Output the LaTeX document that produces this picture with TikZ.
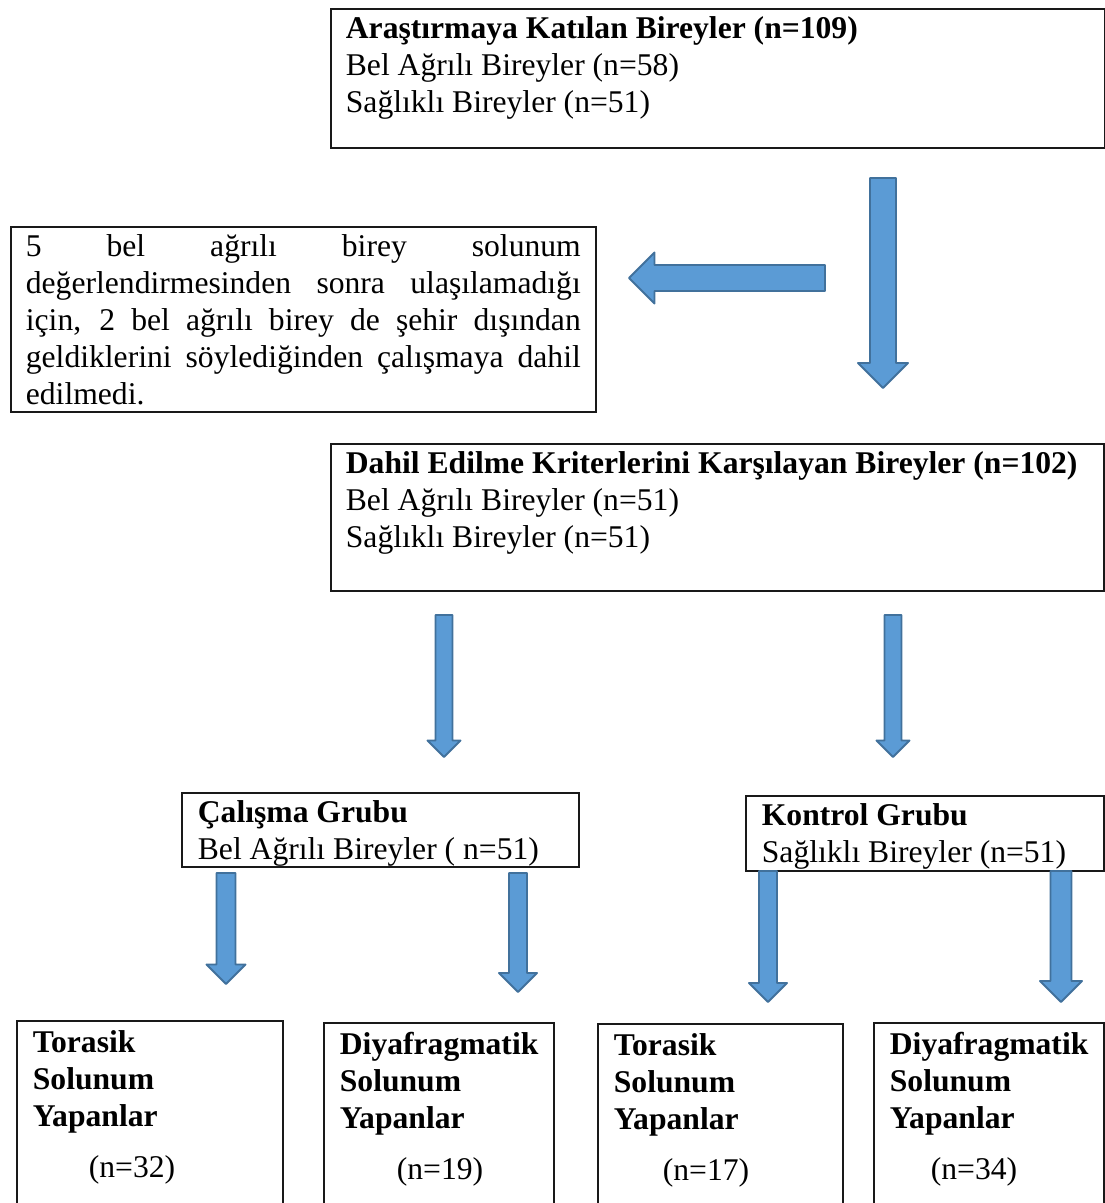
\documentclass[tikz,border=0pt]{standalone}
\usepackage{fontspec}
\setmainfont{Liberation Serif}
\usepackage{tikz}

\definecolor{okmavi}{RGB}{91,155,213}
\definecolor{okkenar}{RGB}{65,113,156}

\tikzset{
	kutu/.style={draw=black!90,line width=1pt,anchor=north west,inner xsep=0.3cm,inner ysep=0.08cm},
	ok/.style={fill=okmavi,draw=okkenar,line width=1.1pt,line join=round}
}

% asagi blok ok: x merkez, y ust, y uc, govde yari, bas yari
\newcommand{\asagiok}[5]{\draw[ok] ({#1-#4},#2) -- ({#1+#4},#2) -- ({#1+#4},{#3-#5}) -- ({#1+#5},{#3-#5}) -- (#1,#3) -- ({#1-#5},{#3-#5}) -- ({#1-#4},{#3-#5}) -- cycle;}
% sola blok ok: y merkez, x kuyruk, x uc, govde yari, bas yari
\newcommand{\solaok}[5]{\draw[ok] (#2,{#1-#4}) -- (#2,{#1+#4}) -- ({#3+#5},{#1+#4}) -- ({#3+#5},{#1+#5}) -- (#3,#1) -- ({#3+#5},{#1-#5}) -- ({#3+#5},{#1-#4}) -- cycle;}

\begin{document}
\begin{tikzpicture}[x=0.02cm,y=-0.02cm,font=\fontsize{18}{21}\selectfont]
	\useasboundingbox (0,0) rectangle (1105,1203);
	\clip (0,0) rectangle (1105,1203);
	\node[kutu] (arastirma) at (330,8) {\parbox[t][2.62cm][t]{14.88cm}{\strut\textbf{Araştırmaya Katılan Bireyler (n=109)}\\Bel Ağrılı Bireyler (n=58)\\Sağlıklı Bireyler (n=51)}};
	\node[kutu] (elenen) at (10,226) {\parbox[t][3.54cm][t]{11.1cm}{\hyphenpenalty=10000\strut 5 bel ağrılı birey solunum\linebreak değerlendirmesinden sonra ulaşılamadığı\linebreak için, 2 bel ağrılı birey de şehir dışından\linebreak geldiklerini söylediğinden çalışmaya dahil\linebreak edilmedi.}};
	\node[kutu] (dahil) at (330,443) {\parbox[t][2.78cm][t]{14.86cm}{\strut\textbf{Dahil Edilme Kriterlerini Karşılayan Bireyler (n=102)}\\Bel Ağrılı Bireyler (n=51)\\Sağlıklı Bireyler (n=51)}};
	\node[kutu,inner xsep=0.32cm] (calisma) at (181,792) {\parbox[t][1.32cm][t]{7.3cm}{\strut\textbf{Çalışma Grubu}\\Bel Ağrılı Bireyler ( n=51)}};
	\node[kutu,inner xsep=0.32cm] (kontrol) at (745,795) {\parbox[t][1.34cm][t]{6.52cm}{\strut\textbf{Kontrol Grubu}\\Sağlıklı Bireyler (n=51)}};
	\begin{scope}[kutu/.append style={inner xsep=0.32cm,inner ysep=0.11cm}]
		\node[kutu] (torasik1) at (16,1020) {\parbox[t][3.84cm][t]{4.68cm}{\strut\textbf{Torasik}\\\textbf{Solunum}\\\textbf{Yapanlar}\\[0.3cm]\hspace*{1.12cm}(n=32)}};
		\node[kutu] (diyafram1) at (323,1022) {\parbox[t][3.84cm][t]{3.96cm}{\strut\textbf{Diyafragmatik}\\\textbf{Solunum}\\\textbf{Yapanlar}\\[0.3cm]\hspace*{1.14cm}(n=19)}};
		\node[kutu] (torasik2) at (597,1023) {\parbox[t][3.84cm][t]{4.26cm}{\strut\textbf{Torasik}\\\textbf{Solunum}\\\textbf{Yapanlar}\\[0.3cm]\hspace*{0.98cm}(n=17)}};
		\node[kutu] (diyafram2) at (873,1022) {\parbox[t][3.84cm][t]{3.96cm}{\strut\textbf{Diyafragmatik}\\\textbf{Solunum}\\\textbf{Yapanlar}\\[0.3cm]\hspace*{0.82cm}(n=34)}};
	\end{scope}
	% bloklu oklar
	\asagiok{883}{178}{388}{13}{25}
	\solaok{278}{825}{629}{13}{25.5}
	\asagiok{444}{615}{757}{8.5}{16.5}
	\asagiok{893}{615}{757}{8.5}{16.5}
	\asagiok{226}{873}{984}{9.5}{19.5}
	\asagiok{518}{873}{992}{9}{19}
	\asagiok{768}{871}{1002}{9}{19}
	\asagiok{1061}{871}{1002}{10.5}{21}
\end{tikzpicture}
\end{document}
